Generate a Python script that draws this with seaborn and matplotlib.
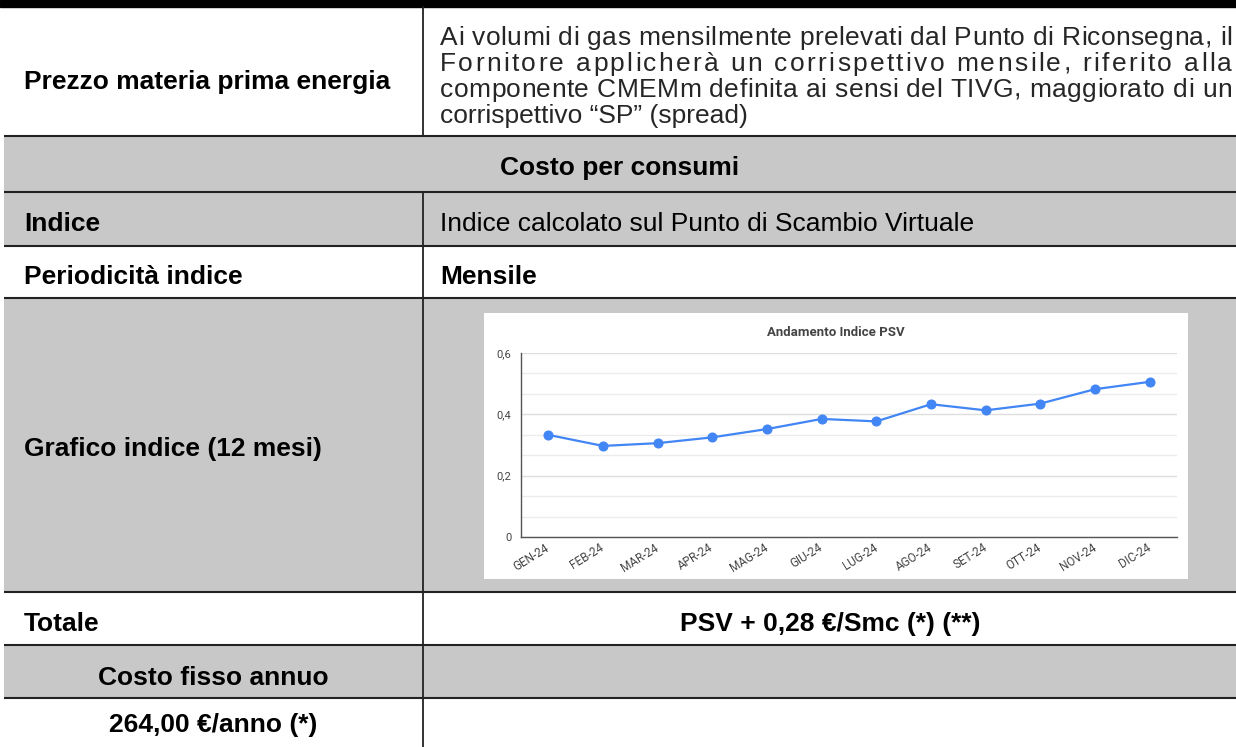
import matplotlib
matplotlib.use("Agg")
import matplotlib.pyplot as plt
from matplotlib.patches import Rectangle
from matplotlib.ticker import MultipleLocator
import pandas as pd
import seaborn as sns

# --- data -------------------------------------------------------------
months = ["GEN-24", "FEB-24", "MAR-24", "APR-24", "MAG-24", "GIU-24",
          "LUG-24", "AGO-24", "SET-24", "OTT-24", "NOV-24", "DIC-24"]
psv = [0.333, 0.297, 0.306, 0.325, 0.352, 0.385,
       0.377, 0.433, 0.413, 0.435, 0.482, 0.506]
y_ticks = [0, 0.2, 0.4, 0.6]
y_tick_labels = ["0", "0,2", "0,4", "0,6"]
chart_title = "Andamento Indice PSV"

description = [
    "Ai volumi di gas mensilmente prelevati dal Punto di Riconsegna, il",
    "Fornitore applicherà un corrispettivo mensile, riferito alla",
    "componente CMEMm definita ai sensi del TIVG, maggiorato di un",
    "corrispettivo “SP” (spread)",
]

W, H = 1236, 747
GRAY = "#c8c8c8"
LINE = "#222222"
BLUE = "#4285f4"
FS = 19

sns.set_theme(style="white")
plt.rcParams["font.family"] = ["Liberation Sans", "DejaVu Sans"]

fig = plt.figure(figsize=(W / 100, H / 100), dpi=100)
fig.patch.set_facecolor("white")

# background axes in pixel coordinates for the table
bg = fig.add_axes([0, 0, 1, 1])
bg.set_xlim(0, W)
bg.set_ylim(H, 0)
bg.axis("off")

bg.add_patch(Rectangle((0, 0), W, 7, color="black"))
for top, bottom in [(136, 192), (192, 246), (298, 592), (645, 698)]:
    bg.add_patch(Rectangle((4, top), W - 4, bottom - top, color=GRAY, lw=0))

for y in [136, 192, 246, 298, 592, 645, 698]:
    bg.plot([4, W], [y, y], color=LINE, lw=1.5, solid_capstyle="butt")
bg.plot([423, 423], [7, 136], color=LINE, lw=1.3)
bg.plot([423, 423], [192, H], color=LINE, lw=1.3)

# chart image background
bg.add_patch(Rectangle((484, 313), 704, 266, color="white", lw=0))


def cell(text, x, y, bold=True, ha="left"):
    bg.text(x, y, text, fontsize=FS, fontweight="bold" if bold else "normal",
            ha=ha, va="center", color="black")


cell("Prezzo materia prima energia", 24, 82)
cell("Costo per consumi", 620, 168, ha="center")
cell("Indice", 24, 224)
cell("Indice calcolato sul Punto di Scambio Virtuale", 440, 224, bold=False)
cell("Periodicità indice", 24, 277)
cell("Mensile", 440, 277)
cell("Grafico indice (12 mesi)", 24, 449)
cell("Totale", 24, 624)
cell("PSV + 0,28 €/Smc (*) (**)", 830, 624, ha="center")
cell("Costo fisso annuo", 213, 678, ha="center")
cell("264,00 €/anno (*)", 213, 725, ha="center")

# justified paragraph in the first row (extra space spread between characters)
renderer = fig.canvas.get_renderer()


def text_width(s):
    t = bg.text(0, 0, s, fontsize=FS)
    w = t.get_window_extent(renderer).width
    t.remove()
    return w


char_w = {}
for line in description:
    for c in line:
        if c not in char_w:
            char_w[c] = text_width(f"x{c}x") - text_width("xx")

x0, x1 = 440, 1232
line_y = [38, 64, 90, 116]
for i, line in enumerate(description):
    if i == len(description) - 1:
        bg.text(x0, line_y[i], line, fontsize=FS, ha="left", va="center")
        continue
    natural = sum(char_w[c] for c in line)
    extra = (x1 - x0 - natural) / (len(line) - 1)
    x = x0
    for c in line:
        if c != " ":
            bg.text(x, line_y[i], c, fontsize=FS, ha="left", va="center")
        x += char_w[c] + extra

# --- chart ------------------------------------------------------------
chart_font = ["Roboto", "DejaVu Sans"]
ax = fig.add_axes([521 / W, 1 - 537 / H, 656 / W, 184 / H])
df = pd.DataFrame({"mese": months, "psv": psv})
sns.lineplot(data=df, x="mese", y="psv", ax=ax, sort=False, color=BLUE,
             linewidth=1.6, marker="o", markersize=6.5, markeredgecolor=BLUE)

ax.set_facecolor("white")
ax.set_xlim(-0.5, len(months) - 0.5)
ax.set_ylim(0, 0.6)
ax.set_yticks(y_ticks, y_tick_labels)
ax.yaxis.set_minor_locator(MultipleLocator(0.2 / 3))
ax.grid(which="major", axis="y", color="#dedede", lw=1)
ax.grid(which="minor", axis="y", color="#ececec", lw=1)
ax.set_axisbelow(True)
for side in ["top", "right"]:
    ax.spines[side].set_visible(False)
for side in ["left", "bottom"]:
    ax.spines[side].set_color("#555555")
    ax.spines[side].set_linewidth(1)
ax.set_xlabel("")
ax.set_ylabel("")
ax.tick_params(axis="y", which="both", length=0, labelsize=8, labelcolor="#444444", pad=7)
ax.tick_params(axis="x", length=0, labelsize=8.5, labelcolor="#444444", pad=7)
for lab in ax.get_yticklabels():
    lab.set_family(chart_font)
for lab in ax.get_xticklabels():
    lab.set_family(chart_font)
    lab.set_rotation(32)
    lab.set_ha("right")
    lab.set_va("center")
    lab.set_rotation_mode("anchor")

fig.text(836 / W, 1 - 333 / H, chart_title, fontsize=9.5, fontweight="bold",
         family=chart_font, color="#444444", ha="center", va="center")

fig.savefig("out.png", dpi=100)
